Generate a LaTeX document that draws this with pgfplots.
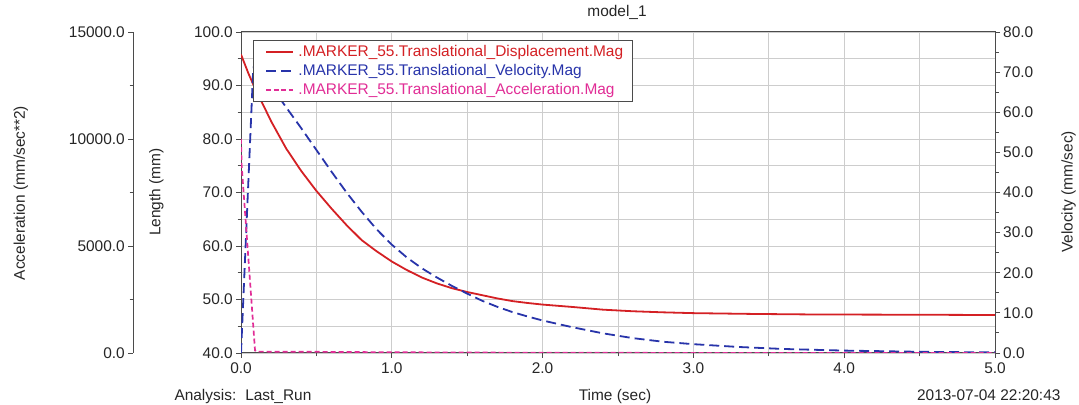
\documentclass[border=0pt]{standalone}
\usepackage{fontspec}
\setmainfont{Liberation Sans}
\usepackage{pgfplots}
\usepackage{pgfplotstable}
\pgfplotsset{compat=1.18}
\definecolor{cDisp}{RGB}{212,32,36}
\definecolor{cVel}{RGB}{40,52,170}
\definecolor{cAcc}{RGB}{225,45,150}
\definecolor{cGrid}{RGB}{205,205,205}
\definecolor{cAxis}{RGB}{75,75,75}

\pgfplotstableread{
t L
0 95.8
0.05 92.2
0.1 89.0
0.15 86.2
0.2 83.3
0.3 78.2
0.4 74.0
0.5 70.3
0.6 67.0
0.7 63.9
0.8 61.1
0.9 59.0
1.0 57.1
1.1 55.5
1.2 54.1
1.3 53.0
1.4 52.1
1.5 51.4
1.6 50.8
1.7 50.2
1.8 49.7
1.9 49.35
2.0 49.05
2.2 48.6
2.4 48.1
2.6 47.8
2.8 47.6
3.0 47.45
3.4 47.3
3.8 47.2
4.5 47.15
5.0 47.1
}\disp

\pgfplotstableread{
t V
0 0
0.04 35
0.08 70
0.095 74
0.2 66.5
0.3 61.2
0.4 56.0
0.5 50.6
0.6 45.2
0.7 40.0
0.8 35.2
0.9 30.8
1.0 27.0
1.1 23.8
1.2 21.1
1.3 18.8
1.4 16.7
1.5 14.8
1.6 13.0
1.7 11.5
1.8 10.2
1.9 9.1
2.0 8.1
2.2 6.4
2.4 4.9
2.6 3.7
2.8 2.8
3.0 2.2
3.3 1.5
3.6 1.0
4.0 0.6
4.5 0.3
5.0 0.15
}\velo

\pgfplotstableread{
t A
0 10000
0.004 8800
0.093 120
0.1 65
0.5 55
1.0 35
2.0 12
3.0 5
5.0 1
}\accel

\pgfplotsset{
  base/.style={
    scale only axis, width=754bp, height=321bp, anchor=south west, at={(241bp,52bp)},
    xmin=0, xmax=5,
    /pgf/number format/fixed, /pgf/number format/fixed zerofill,
    /pgf/number format/precision=1, /pgf/number format/1000 sep={},
    /pgf/number format/assume math mode=true,
    scaled ticks=false,
    tick align=outside, major tick length=5bp, minor tick length=3.5bp,
    axis line style={cAxis, line width=1bp},
    tick style={cAxis, line width=0.9bp},
    tick label style={font=\fontsize{15.5}{18}\selectfont, text=black!85},
  }
}

\begin{document}
\begin{tikzpicture}[font=\fontsize{15.5}{18}\selectfont]
\path[use as bounding box] (0,0) rectangle (1079bp,405bp);

% main axis: Length
\begin{axis}[base, ymin=40, ymax=100,
  ytick={40,50,...,100}, minor ytick={45,55,...,95},
  xtick={0,1,...,5}, minor xtick={0.5,1.5,...,4.5},
  xtick pos=bottom, ytick pos=left,
  grid=both,
  major grid style={cGrid, line width=0.8bp},
  minor grid style={cGrid, line width=0.8bp},
  yticklabel style={inner sep=3bp},
  xticklabel style={inner sep=5bp}]
\addplot[cDisp, line width=1.8bp] table {\disp};
\end{axis}

% velocity axis (right)
\begin{axis}[base, ymin=0, ymax=80,
  axis y line*=right, axis x line=none,
  ytick={0,10,...,80}, minor ytick={5,15,...,75},
  yticklabel style={inner sep=3bp}]
\addplot[cVel, line width=1.8bp, dash pattern=on 10bp off 5bp] table {\velo};
\end{axis}

% acceleration scale axis (far left)
\begin{axis}[base, at={(133bp,52bp)}, width=10bp, xmin=0, xmax=1,
  ymin=0, ymax=15000,
  axis y line*=left, axis x line=none,
  ytick={0,5000,10000,15000}, minor ytick={2500,7500,12500},
  yticklabel style={inner sep=3bp}]
\addplot[draw=none] coordinates {(0,0)};
\end{axis}

% acceleration data + legend
\begin{axis}[base, ymin=0, ymax=15000, hide axis,
  legend cell align=left,
  legend image code/.code={\path (-4bp,0bp); \draw[#1] (0bp,0bp) -- (27bp,0bp);},
  legend style={at={(0.016,0.975)}, anchor=north west, draw=cAxis, line width=0.8bp,
    fill=white, font=\fontsize{15.5}{18}\selectfont, inner xsep=8bp, inner ysep=3bp,
    row sep=2.2bp, column sep=3bp,
    nodes={inner sep=1bp, text height=12bp, text depth=3bp}}]
\addplot[cAcc, line width=1.7bp, dash pattern=on 5bp off 3bp, forget plot] table {\accel};
\addlegendimage{draw=cDisp, line width=1.8bp}
\addlegendentry{\textcolor{cDisp}{.MARKER\_55.Translational\_Displacement.Mag}}
\addlegendimage{draw=cVel, line width=1.8bp, dash pattern=on 10bp off 5bp}
\addlegendentry{\textcolor{cVel}{.MARKER\_55.Translational\_Velocity.Mag}}
\addlegendimage{draw=cAcc, line width=2bp, dash pattern=on 5bp off 2.5bp}
\addlegendentry{\textcolor{cAcc}{.MARKER\_55.Translational\_Acceleration.Mag}}
\end{axis}

% texts
\node[anchor=base, text=black!85] at (617bp,388bp) {model\_1};
\node[anchor=base west, text=black!85] at (171bp,5bp) {Analysis:\hspace{9bp}Last\_Run};
\node[anchor=base, text=black!85] at (615bp,5bp) {Time (sec)};
\node[anchor=base east, text=black!85] at (1064bp,5bp) {2013-07-04 22:20:43};
\node[rotate=90, text=black!85] at (21bp,212bp) {Acceleration (mm/sec**2)};
\node[rotate=90, text=black!85] at (156.5bp,213bp) {Length (mm)};
\node[rotate=90, text=black!85] at (1068.5bp,213bp) {Velocity (mm/sec)};
\end{tikzpicture}
\end{document}
